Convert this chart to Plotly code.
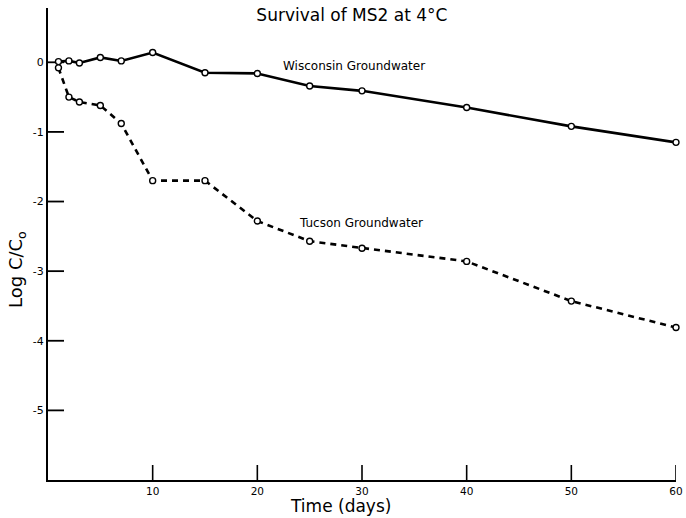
import plotly.graph_objects as go

days = [1, 2, 3, 5, 7, 10, 15, 20, 25, 30, 40, 50, 60]
wisconsin = [0.01, 0.02, -0.01, 0.07, 0.02, 0.14, -0.15, -0.16, -0.34, -0.41, -0.65, -0.92, -1.15]
tucson = [-0.08, -0.50, -0.57, -0.62, -0.88, -1.70, -1.70, -2.28, -2.57, -2.67, -2.86, -3.43, -3.81]

x_ticks = [10, 20, 30, 40, 50, 60]
y_ticks = [0, -1, -2, -3, -4, -5]

font_family = "DejaVu Sans, Liberation Sans, sans-serif"

W, H = 686, 518
ML, MR, MT, MB = 48, 10, 8, 38
PW, PH = W - ML - MR, H - MT - MB
X_RANGE = [0, 60]
Y_RANGE = [-6.0, 0.78]

fig = go.Figure()

# inward tick marks as line segments at the tick values
ytick_len = 16 / PW * (X_RANGE[1] - X_RANGE[0])
xtick_len = 15 / PH * (Y_RANGE[1] - Y_RANGE[0])
ytx, yty = [], []
for v in y_ticks:
    ytx += [X_RANGE[0], X_RANGE[0] + ytick_len, None]
    yty += [v, v, None]
xtx, xty = [], []
for v in x_ticks:
    xtx += [v, v, None]
    xty += [Y_RANGE[0], Y_RANGE[0] + xtick_len, None]
fig.add_trace(go.Scatter(x=ytx, y=yty, mode="lines", line=dict(color="black", width=1.8),
                         hoverinfo="skip", cliponaxis=False))
fig.add_trace(go.Scatter(x=xtx, y=xty, mode="lines", line=dict(color="black", width=1.6),
                         hoverinfo="skip", cliponaxis=False))

fig.add_trace(go.Scatter(
    x=days, y=wisconsin, mode="lines+markers", name="Wisconsin Groundwater",
    line=dict(color="black", width=2.6),
    marker=dict(symbol="circle", size=6, color="white", line=dict(color="black", width=1.4)),
    cliponaxis=False,
))
fig.add_trace(go.Scatter(
    x=days, y=tucson, mode="lines+markers", name="Tucson Groundwater",
    line=dict(color="black", width=2.6, dash="6px,5px"),
    marker=dict(symbol="circle", size=6, color="white", line=dict(color="black", width=1.4)),
    cliponaxis=False,
))

fig.add_annotation(x=29.2, y=-0.06, text="Wisconsin Groundwater", showarrow=False,
                   xref="x", yref="y", font=dict(size=12, color="black", family=font_family))
fig.add_annotation(x=29.9, y=-2.31, text="Tucson Groundwater", showarrow=False,
                   xref="x", yref="y", font=dict(size=12, color="black", family=font_family))

# axis titles
fig.add_annotation(x=0.465, y=0, xref="paper", yref="paper", yshift=-26, yanchor="middle",
                   text="Time (days)", showarrow=False,
                   font=dict(size=17, color="black", family=font_family))
fig.add_annotation(x=0, y=0.445, xref="paper", yref="paper", xshift=-31, xanchor="center",
                   yanchor="middle", textangle=-90,
                   text="Log C/C<sub>o</sub>", showarrow=False,
                   font=dict(size=18, color="black", family=font_family))

fig.update_layout(
    width=W, height=H,
    margin=dict(l=ML, r=MR, t=MT, b=MB),
    paper_bgcolor="white", plot_bgcolor="white",
    showlegend=False,
    font=dict(family=font_family, color="black"),
    title=dict(text="Survival of MS2 at 4°C", x=0.513, xanchor="center",
               y=1 - 15 / H, yanchor="middle",
               font=dict(size=17, color="black", family=font_family)),
)
fig.update_xaxes(
    range=X_RANGE, tickvals=x_ticks, ticktext=[str(v) for v in x_ticks],
    ticks="", showline=True, linecolor="black", linewidth=2.2,
    showgrid=False, zeroline=False, automargin=False,
    tickfont=dict(size=10.5),
)
fig.update_yaxes(
    range=Y_RANGE, tickvals=y_ticks, ticktext=[str(v) for v in y_ticks],
    ticks="", showline=True, linecolor="black", linewidth=2.2,
    showgrid=False, zeroline=False, automargin=False,
    tickfont=dict(size=11),
)

fig.write_html(
    "out.html",
    config={"displayModeBar": False},
    post_script="document.body.style.margin='0';document.body.style.overflow='hidden';",
)
